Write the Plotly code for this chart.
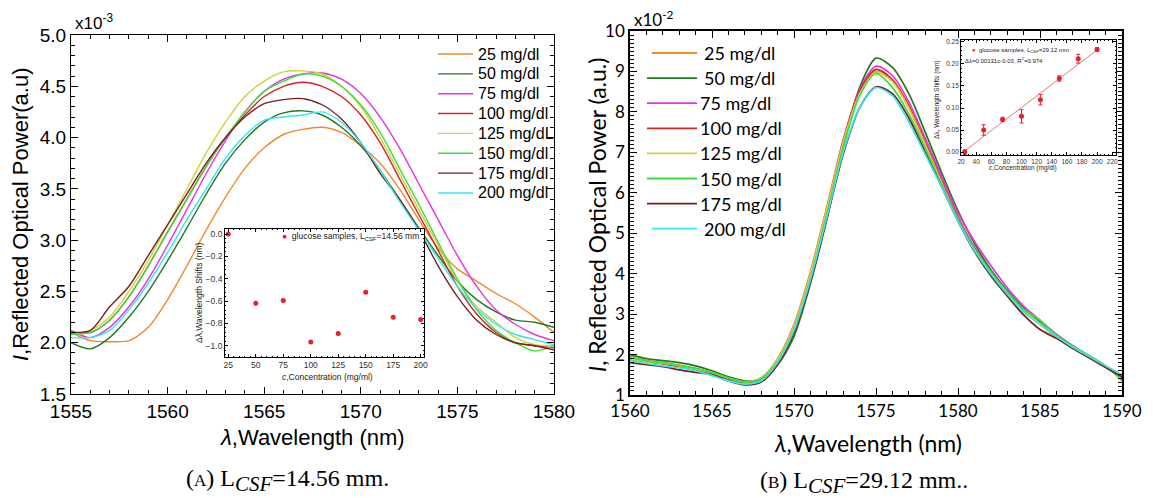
import plotly.graph_objects as go

W, H = 1153, 498

# ---------------- Panel A: L_CSF = 14.56 mm (values x10^-3) ----------------
wl_a = [1555, 1556, 1557, 1558, 1559, 1560, 1561, 1562, 1563, 1564, 1565, 1566, 1567,
        1568, 1569, 1570, 1571, 1572, 1573, 1574, 1575, 1576, 1577, 1578, 1579, 1580]

a_25 = [2.10, 2.02, 2.01, 2.02, 2.15, 2.42, 2.75, 3.10, 3.42, 3.70, 3.90, 4.03, 4.08,
        4.10, 4.05, 3.92, 3.75, 3.50, 3.20, 2.92, 2.72, 2.60, 2.48, 2.38, 2.25, 2.10]
a_50 = [2.00, 1.94, 2.05, 2.25, 2.50, 2.80, 3.12, 3.45, 3.75, 3.98, 4.15, 4.24, 4.26,
        4.22, 4.10, 3.92, 3.68, 3.40, 3.12, 2.85, 2.60, 2.42, 2.30, 2.22, 2.20, 2.15]
a_75 = [2.12, 2.05, 2.15, 2.35, 2.62, 2.95, 3.30, 3.65, 3.97, 4.25, 4.45, 4.57, 4.62,
        4.63, 4.57, 4.43, 4.20, 3.90, 3.55, 3.20, 2.85, 2.55, 2.32, 2.18, 2.08, 2.02]
a_100 = [2.10, 2.10, 2.22, 2.45, 2.75, 3.08, 3.40, 3.72, 4.00, 4.22, 4.40, 4.50, 4.54,
         4.50, 4.40, 4.22, 3.95, 3.60, 3.25, 2.90, 2.55, 2.28, 2.10, 2.00, 1.97, 1.95]
a_125 = [2.08, 2.12, 2.25, 2.50, 2.80, 3.15, 3.50, 3.85, 4.15, 4.40, 4.55, 4.64, 4.65,
         4.62, 4.50, 4.30, 4.00, 3.65, 3.30, 2.95, 2.60, 2.35, 2.20, 2.05, 1.98, 1.97]
a_150 = [2.08, 2.10, 2.22, 2.45, 2.75, 3.08, 3.40, 3.72, 4.00, 4.25, 4.45, 4.55, 4.62,
         4.60, 4.50, 4.32, 4.05, 3.70, 3.35, 2.98, 2.62, 2.32, 2.12, 2.00, 1.92, 1.97]
a_175 = [2.10, 2.12, 2.35, 2.55, 2.85, 3.15, 3.45, 3.75, 4.00, 4.20, 4.33, 4.37, 4.38,
         4.32, 4.18, 3.95, 3.65, 3.40, 3.10, 2.75, 2.45, 2.22, 2.08, 2.00, 1.97, 1.93]
a_200 = [2.05, 2.05, 2.12, 2.32, 2.58, 2.88, 3.20, 3.50, 3.80, 4.02, 4.17, 4.20, 4.22,
         4.25, 4.15, 3.95, 3.68, 3.38, 3.10, 2.82, 2.55, 2.33, 2.18, 2.08, 2.03, 1.98]

# inset A: wavelength shift vs concentration
conc_a = [25, 50, 75, 100, 125, 150, 175, 200]
shift_a = [0.0, -0.62, -0.595, -0.965, -0.89, -0.52, -0.745, -0.765]

# ---------------- Panel B: L_CSF = 29.12 mm (values x10^-2) ----------------
wl_b = [1560, 1561, 1562, 1563, 1564, 1565, 1566, 1567, 1568, 1569, 1570, 1571, 1572,
        1573, 1574, 1575, 1576, 1577, 1578, 1579, 1580, 1581, 1582, 1583, 1584, 1585,
        1586, 1587, 1588, 1589, 1590]

b_25 = [1.95, 1.85, 1.80, 1.74, 1.66, 1.55, 1.42, 1.33, 1.42, 1.90, 2.75, 4.05, 5.65,
        7.30, 8.50, 9.00, 8.78, 8.10, 7.20, 6.25, 5.35, 4.60, 4.00, 3.50, 3.08, 2.75,
        2.42, 2.18, 1.93, 1.70, 1.40]
b_50 = [2.00, 1.90, 1.85, 1.80, 1.72, 1.60, 1.45, 1.35, 1.38, 1.75, 2.45, 3.75, 5.35,
        7.15, 8.60, 9.33, 9.10, 8.45, 7.50, 6.50, 5.55, 4.75, 4.10, 3.58, 3.15, 2.80,
        2.50, 2.22, 1.97, 1.72, 1.45]
b_75 = [1.92, 1.83, 1.78, 1.72, 1.65, 1.55, 1.40, 1.32, 1.42, 1.88, 2.70, 4.00, 5.60,
        7.30, 8.55, 9.13, 8.90, 8.25, 7.35, 6.40, 5.50, 4.80, 4.20, 3.65, 3.20, 2.85,
        2.50, 2.20, 1.96, 1.72, 1.48]
b_100 = [1.88, 1.82, 1.77, 1.70, 1.62, 1.52, 1.40, 1.30, 1.40, 1.85, 2.65, 3.95, 5.55,
         7.25, 8.50, 9.05, 8.80, 8.15, 7.25, 6.30, 5.40, 4.65, 4.05, 3.55, 3.10, 2.77,
         2.45, 2.17, 1.93, 1.70, 1.42]
b_125 = [1.90, 1.82, 1.78, 1.72, 1.64, 1.55, 1.42, 1.33, 1.42, 1.88, 2.70, 4.00, 5.60,
         7.25, 8.45, 8.98, 8.75, 8.10, 7.20, 6.25, 5.35, 4.60, 4.02, 3.52, 3.10, 2.77,
         2.45, 2.20, 1.95, 1.72, 1.38]
b_150 = [1.93, 1.84, 1.80, 1.73, 1.66, 1.56, 1.42, 1.32, 1.40, 1.82, 2.60, 3.85, 5.45,
         7.10, 8.40, 8.95, 8.60, 7.95, 7.10, 6.20, 5.35, 4.62, 4.05, 3.55, 3.12, 2.85,
         2.48, 2.20, 1.97, 1.72, 1.35]
b_175 = [1.80, 1.75, 1.70, 1.62, 1.56, 1.50, 1.35, 1.25, 1.32, 1.75, 2.55, 3.80, 5.35,
         6.95, 8.10, 8.62, 8.45, 7.85, 7.00, 6.15, 5.30, 4.55, 3.95, 3.45, 2.98, 2.62,
         2.40, 2.15, 1.92, 1.68, 1.45]
b_200 = [1.85, 1.78, 1.72, 1.67, 1.60, 1.48, 1.35, 1.27, 1.35, 1.80, 2.60, 3.85, 5.40,
         7.00, 8.10, 8.60, 8.40, 7.75, 6.95, 6.15, 5.30, 4.58, 4.00, 3.50, 3.05, 2.75,
         2.45, 2.18, 1.95, 1.72, 1.50]

# inset B: wavelength shift with error bars and linear fit
conc_b = [25, 50, 75, 100, 125, 150, 175, 200]
shift_b = [0.0, 0.05, 0.074, 0.081, 0.119, 0.167, 0.212, 0.233]
err_b = [0.005, 0.012, 0.005, 0.015, 0.012, 0.006, 0.010, 0.004]
fit_slope, fit_icpt = 0.00131, -0.03
fit_c = [25, 200]

labels_a = ["25 mg/dl", "50 mg/dl", "75 mg/dl", "100 mg/dl", "125 mg/dL",
            "150 mg/dl", "175 mg/dl", "200 mg/dl"]
labels_b = ["25 mg/dl", "50 mg/dl", "75 mg/dl", "100 mg/dl", "125 mg/dl",
            "150 mg/dl", "175 mg/dl", "200 mg/dl"]
colors = ["#F0892A", "#1F7A1F", "#E830E8", "#D42424", "#D6CE3C",
          "#3CE03C", "#7A1E1E", "#36E6F2"]

series_a = [a_25, a_50, a_75, a_100, a_125, a_150, a_175, a_200]
series_b = [b_25, b_50, b_75, b_100, b_125, b_150, b_175, b_200]

SANS = "Liberation Sans, Arial, sans-serif"
CAL = "Lato, Open Sans, sans-serif"
SERIF = "Liberation Serif, DejaVu Serif, serif"


def px(x):
    return x / W


def py(y):
    return 1 - y / H


fig = go.Figure()

for lab, col, vals in zip(labels_a, colors, series_a):
    fig.add_trace(go.Scatter(x=wl_a, y=vals, mode="lines", name=lab, showlegend=False,
                             line=dict(color=col, width=1.4, shape="spline", smoothing=0.8),
                             xaxis="x", yaxis="y"))

fig.add_trace(go.Scatter(x=conc_a, y=shift_a, mode="markers", showlegend=False,
                         marker=dict(color="#E8202A", size=5),
                         xaxis="x2", yaxis="y2"))

for lab, col, vals in zip(labels_b, colors, series_b):
    fig.add_trace(go.Scatter(x=wl_b, y=vals, mode="lines", name=lab, showlegend=False,
                             line=dict(color=col, width=1.7, shape="spline", smoothing=0.8),
                             xaxis="x3", yaxis="y3"))

fig.add_trace(go.Scatter(x=fit_c, y=[fit_slope * c + fit_icpt for c in fit_c],
                         mode="lines", showlegend=False,
                         line=dict(color="#E07878", width=1),
                         xaxis="x4", yaxis="y4"))
fig.add_trace(go.Scatter(x=conc_b, y=shift_b, mode="markers", showlegend=False,
                         marker=dict(color="#E8202A", size=5),
                         error_y=dict(type="data", array=err_b, color="#E8202A",
                                      thickness=1, width=2),
                         xaxis="x4", yaxis="y4"))

common = dict(showline=True, linecolor="black", mirror="allticks", ticks="inside",
              tickcolor="black", showgrid=False, zeroline=False, automargin=False)

fig.update_layout(
    width=W, height=H, margin=dict(l=0, r=0, t=0, b=0, autoexpand=False),
    paper_bgcolor="white", plot_bgcolor="white", showlegend=False,
    xaxis=dict(**common, domain=[px(71), px(554)], range=[1555, 1580], anchor="y",
               tick0=1555, dtick=5, ticklen=7, linewidth=1.2,
               minor=dict(dtick=1, ticklen=4, ticks="inside", tickcolor="black"),
               tickfont=dict(family=SANS, size=19, color="black")),
    yaxis=dict(**common, domain=[py(394), py(35)], range=[1.5, 5.0], anchor="x",
               dtick=0.5, tickformat=".1f", ticklen=7, linewidth=1.2,
               minor=dict(dtick=0.1, ticklen=4, ticks="inside", tickcolor="black"),
               tickfont=dict(family=SANS, size=19, color="black")),
    xaxis2=dict(**common, domain=[px(225), px(424)], range=[22, 203], anchor="y2",
                tick0=25, dtick=25, ticklen=3, linewidth=0.8,
                minor=dict(dtick=5, ticklen=1.5, ticks="inside", tickcolor="black"),
                tickfont=dict(family=SANS, size=8.5, color="#333")),
    yaxis2=dict(**common, domain=[py(357), py(229)], range=[-1.10, 0.045], anchor="x2",
                dtick=0.2, tickformat=".1f", ticklen=3, linewidth=0.8,
                minor=dict(dtick=0.04, ticklen=1.5, ticks="inside", tickcolor="black"),
                tickfont=dict(family=SANS, size=8.5, color="#333")),
    xaxis3=dict(**common, domain=[px(630), px(1122)], range=[1560, 1590], anchor="y3",
                tick0=1560, dtick=5, ticklen=7, linewidth=1.5,
                minor=dict(dtick=1, ticklen=4, ticks="inside", tickcolor="black"),
                tickfont=dict(family=CAL, size=17, color="black")),
    yaxis3=dict(**common, domain=[py(395), py(31)], range=[1, 10], anchor="x3",
                dtick=1, ticklen=7, linewidth=1.5,
                minor=dict(dtick=0.1, ticklen=4, ticks="inside", tickcolor="black"),
                tickfont=dict(family=CAL, size=17, color="black")),
    xaxis4=dict(**common, domain=[px(961), px(1116)], range=[20, 225], anchor="y4",
                tick0=20, dtick=20, ticklen=3, linewidth=0.8,
                minor=dict(dtick=5, ticklen=1.5, ticks="inside", tickcolor="black"),
                tickfont=dict(family=SANS, size=6.5, color="#333")),
    yaxis4=dict(**common, domain=[py(155), py(40)], range=[-0.0068, 0.2545], anchor="x4",
                dtick=0.05, tickformat=".2f", ticklen=3, linewidth=0.8,
                minor=dict(dtick=0.01, ticklen=1.5, ticks="inside", tickcolor="black"),
                tickfont=dict(family=SANS, size=6.5, color="#333")),
)

ann = []
shapes = []


def note(x, y, text, size, family=SANS, xanchor="center", angle=0, color="black"):
    ann.append(dict(x=px(x), y=py(y), xref="paper", yref="paper", text=text,
                    showarrow=False, xanchor=xanchor, yanchor="middle",
                    textangle=angle, font=dict(family=family, size=size, color=color)))


def key_line(x0, x1, y, color, width):
    shapes.append(dict(type="line", xref="paper", yref="paper",
                       x0=px(x0), x1=px(x1), y0=py(y), y1=py(y),
                       line=dict(color=color, width=width)))


# legend of panel A
for i, (lab, col) in enumerate(zip(labels_a, colors)):
    yy = 54 + i * 19.85
    key_line(438, 473, yy, col, 1.4)
    note(476, yy, lab, 16, xanchor="left")

# legend of panel B
key_x0 = [652, 647, 647, 647, 647, 647, 647, 652]
txt_x0 = [702, 702, 698, 698, 698, 698, 698, 702]
for i, (lab, col) in enumerate(zip(labels_b, colors)):
    yy = 53 + i * 25.1
    key_line(key_x0[i], 697, yy, col, 1.8)
    note(txt_x0[i], yy, lab, 18, family=CAL, xanchor="left")

# panel A text
note(73, 22, "x10<sup>-3</sup>", 17, xanchor="left")
note(312, 437, "<i>λ</i>,Wavelength (nm)", 22)
note(20, 215, "<i>I</i>,Reflected Optical Power(a.u)", 22, angle=-90)
note(421, 237, "<span style='color:#E8202A'>●</span>  glucose samples, L<sub>CSF</sub>=14.56 mm",
     8.5, xanchor="right", color="#222")
note(327, 377, "<i>c</i>,Concentration (mg/ml)", 8.5, color="#222")
note(199, 293, "Δλ,Wavelength Shifts (nm)", 8.5, angle=-90, color="#222")
note(287, 480,
     "(<span style='font-size:17px'>A</span>) L<sub><span style='font-size:21px'><i>CSF</i></span></sub>=14.56 mm.",
     24, family=SERIF)

# panel B text
note(632, 18, "x10<sup>-2</sup>", 17, family=CAL, xanchor="left")
note(868, 443, "<i>λ</i>,Wavelength (nm)", 23, family=CAL)
note(597, 215, "<i>I</i>, Reflected Optical Power (a.u.)", 23, family=CAL, angle=-90)
note(970, 50, "<span style='color:#E8202A'>●</span>  glucose samples, L<sub>CSF</sub>=29.12 mm",
     6, xanchor="left", color="#222")
note(963, 60, "Δλ=0.00131c-0.03, R<sup>2</sup>=0.974", 6, xanchor="left", color="#222")
note(1023, 168, "<i>c</i>,Concentration (mg/dl)", 6.5, color="#222")
note(937, 100, "Δλ, Wavelength Shifts (nm)", 6.5, angle=-90, color="#222")
note(864, 482,
     "(<span style='font-size:17px'>B</span>) L<sub><span style='font-size:21px'><i>CSF</i></span></sub>=29.12 mm..",
     24, family=SERIF)

fig.update_layout(annotations=ann, shapes=shapes)

fig.write_html("out.html")
